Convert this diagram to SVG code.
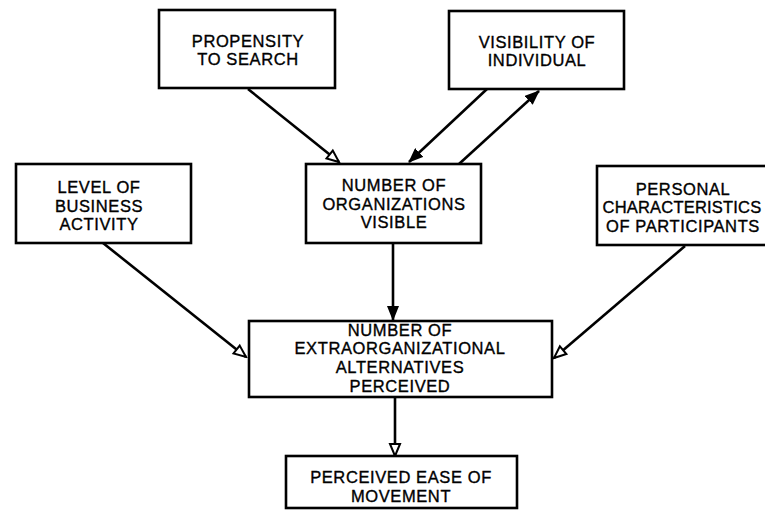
<svg xmlns="http://www.w3.org/2000/svg" width="765" height="515" viewBox="0 0 765 515">
  <defs>
    <style>
      .box { fill: #fff; stroke: #000; stroke-width: 2.6; }
      .lbl { font-family: "Liberation Sans", Arial, sans-serif; font-size: 16.5px; letter-spacing: 0.6px; fill: #000; stroke: #000; stroke-width: 0.35; text-anchor: middle; }
      .tight { letter-spacing: 0.2px; }
      .edge { fill: none; stroke: #000; stroke-width: 2.6; }
    </style>
    <marker id="solid" viewBox="0 0 15 12" refX="14" refY="6" markerWidth="15" markerHeight="12" markerUnits="userSpaceOnUse" orient="auto">
      <path d="M0,0 L15,6 L0,12 Z" fill="#000"/>
    </marker>
    <marker id="open" viewBox="0 0 16 14" refX="14" refY="7" markerWidth="16" markerHeight="14" markerUnits="userSpaceOnUse" orient="auto">
      <path d="M2,2 L14,7 L2,12 Z" fill="#fff" stroke="#000" stroke-width="2"/>
    </marker>
  </defs>

  <rect width="765" height="515" fill="#fff"/>

  <g id="connectors">
    <line class="edge" x1="248" y1="89" x2="339" y2="162" marker-end="url(#open)"/>
    <line class="edge" x1="487" y1="89" x2="409" y2="162" marker-end="url(#solid)"/>
    <line class="edge" x1="459" y1="164" x2="539" y2="91" marker-end="url(#solid)"/>
    <line class="edge" x1="103" y1="243" x2="246" y2="357" marker-end="url(#open)"/>
    <line class="edge" x1="685" y1="246" x2="554" y2="358" marker-end="url(#open)"/>
    <line class="edge" x1="393" y1="243" x2="393" y2="320" marker-end="url(#solid)"/>
    <line class="edge" x1="395" y1="397" x2="395" y2="456" marker-end="url(#open)"/>
  </g>

  <g id="propensity">
    <rect class="box" x="159" y="10" width="176" height="78"/>
    <text class="lbl" x="248" y="47">PROPENSITY</text>
    <text class="lbl" x="248" y="65">TO SEARCH</text>
  </g>

  <g id="visibility">
    <rect class="box" x="449" y="11" width="175" height="78"/>
    <text class="lbl" x="537" y="48">VISIBILITY OF</text>
    <text class="lbl" x="537" y="66">INDIVIDUAL</text>
  </g>

  <g id="business">
    <rect class="box" x="16" y="164" width="175" height="79"/>
    <text class="lbl" x="99" y="193">LEVEL OF</text>
    <text class="lbl" x="99" y="212">BUSINESS</text>
    <text class="lbl" x="99" y="230">ACTIVITY</text>
  </g>

  <g id="orgs">
    <rect class="box" x="306" y="164" width="175" height="79"/>
    <text class="lbl" x="394" y="191">NUMBER OF</text>
    <text class="lbl" x="394" y="210">ORGANIZATIONS</text>
    <text class="lbl" x="394" y="228">VISIBLE</text>
  </g>

  <g id="personal">
    <rect class="box" x="597" y="166" width="180" height="79"/>
    <text class="lbl" x="683" y="195">PERSONAL</text>
    <text class="lbl tight" x="682" y="213">CHARACTERISTICS</text>
    <text class="lbl" x="683" y="232">OF PARTICIPANTS</text>
  </g>

  <g id="alternatives">
    <rect class="box" x="249" y="321" width="303" height="76"/>
    <text class="lbl" x="400" y="336">NUMBER OF</text>
    <text class="lbl" x="400" y="354">EXTRAORGANIZATIONAL</text>
    <text class="lbl" x="400" y="373">ALTERNATIVES</text>
    <text class="lbl" x="400" y="392">PERCEIVED</text>
  </g>

  <g id="ease">
    <rect class="box" x="286" y="456" width="231" height="52"/>
    <text class="lbl" x="401" y="483">PERCEIVED EASE OF</text>
    <text class="lbl" x="401" y="502">MOVEMENT</text>
  </g>
</svg>
